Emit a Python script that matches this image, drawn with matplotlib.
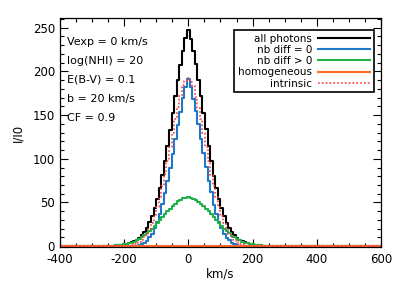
import numpy as np
import matplotlib
matplotlib.use('Agg')
import matplotlib.pyplot as plt
from matplotlib.ticker import MultipleLocator

# histogram bins: 8 km/s wide, centres from -248 to 248 km/s
v_centres = np.arange(-248, 249, 8)

# all photons
all_photons = [0.5, 0.6, 0.8, 1.0, 1.3, 1.7, 2.0, 2.6, 3.3, 4.3, 5.6, 7.2, 9.6, 12.5, 16.3, 21.1,
               27.2, 34.5, 43.5, 54.3, 66.6, 81, 97.5, 114.8, 133, 152, 171.8, 190.2, 207.2, 223.7, 237.6,
               247,
               237.0, 223.0, 207.8, 190.6, 171.2, 152.4, 133.5, 114.2, 97.9, 80.6, 66.9, 54.0, 43.8, 34.2, 27.0,
               21.3, 16.1, 12.6, 9.5, 7.3, 5.5, 4.3, 3.4, 2.6, 2.0, 1.7, 1.3, 1.0, 0.8, 0.6, 0.5]
# photons with no diffusion
nb_diff_0 = [0, 0, 0, 0, 0, 0, 0, 0, 0, 0.1, 0.3, 0.6, 1.2, 2.3, 4.0, 6.5,
             10, 14.5, 20.5, 28, 37, 48, 61, 75, 90, 106, 123, 139, 154, 169, 182,
             191,
             181.5, 168.5, 154.5, 139.5, 122.5, 106.5, 90.5, 74.5, 61.5, 47.5, 37.3, 27.8, 20.7, 14.3, 9.9,
             6.6, 3.9, 2.4, 1.1, 0.6, 0.3, 0.1, 0, 0, 0, 0, 0, 0, 0, 0, 0]
# photons diffused at least once
nb_diff_gt0 = [0.4, 0.5, 0.7, 0.9, 1.2, 1.6, 2.0, 2.6, 3.3, 4.2, 5.3, 6.6, 8.4, 10.2, 12.3, 14.6,
               17.2, 20.0, 23.0, 26.3, 29.6, 33.0, 36.5, 39.8, 43.0, 46.0, 48.8, 51.2, 53.2, 54.7, 55.6,
               56,
               55.5, 54.5, 53.3, 51.1, 48.7, 45.9, 43.0, 39.7, 36.4, 33.1, 29.6, 26.2, 23.1, 19.9, 17.1,
               14.7, 12.2, 10.2, 8.4, 6.7, 5.2, 4.2, 3.4, 2.6, 2.0, 1.7, 1.3, 1.0, 0.8, 0.6, 0.5]
# homogeneous medium
homogeneous = [0] * 63
# intrinsic profile
intrinsic = [0, 0, 0, 0, 0, 0.2, 0.3, 0.5, 0.8, 1.2, 2.0, 3.0, 4.5, 7.0, 10, 14.5,
             20, 27, 35, 45, 56, 69, 83, 98, 114, 130, 145, 159, 172, 184, 189,
             192,
             188, 183, 171, 158, 145, 129, 113, 98, 82, 69, 56, 45, 35, 27, 20,
             14.5, 10, 7, 4.5, 3.0, 2.0, 1.2, 0.8, 0.5, 0.3, 0.2, 0, 0, 0, 0, 0]

params = ['Vexp = 0 km/s', 'log(NHI) = 20', 'E(B-V) = 0.1', 'b = 20 km/s', 'CF = 0.9']

# pad with the flat zero level over the whole plotted range
v_full = np.concatenate([[-400], v_centres, [600]])
def pad(y):
    return np.concatenate([[0], y, [0]])

plt.rcParams['font.family'] = 'DejaVu Sans'
plt.rcParams['axes.unicode_minus'] = False
fig = plt.figure(figsize=(3.99, 2.85), dpi=100)
ax = fig.add_axes([0.150, 0.133, 0.805, 0.804])

lw = 1.5
ax.step(v_full, pad(all_photons), where='mid', color='black', lw=lw, label='all photons')
ax.step(v_full, pad(nb_diff_0), where='mid', color='#1f78c8', lw=lw, label='nb diff = 0')
ax.step(v_full, pad(nb_diff_gt0), where='mid', color='#1fb04a', lw=lw, label='nb diff > 0')
ax.step(v_full, pad(homogeneous), where='mid', color='#ff6a2a', lw=lw, label='homogeneous')
ax.step(v_full, pad(intrinsic), where='mid', color='#ff4040', lw=1.2, ls=(0, (1, 1.3)), label='intrinsic')

ax.set_xlim(-400, 600)
ax.set_ylim(-1, 261)
ax.xaxis.set_major_locator(MultipleLocator(200))
ax.xaxis.set_minor_locator(MultipleLocator(50))
ax.yaxis.set_major_locator(MultipleLocator(50))
ax.yaxis.set_minor_locator(MultipleLocator(10))
ax.tick_params(which='both', direction='in', top=True, right=True, labelsize=8.5, width=0.8)
ax.tick_params(which='major', length=6)
ax.tick_params(which='minor', length=3)
ax.tick_params(axis='x', pad=4)
for s in ax.spines.values():
    s.set_linewidth(0.9)

ax.set_xlabel('km/s', fontsize=8.5, labelpad=1)
ax.set_ylabel('I/I0', fontsize=8.5, labelpad=6)

for i, t in enumerate(params):
    ax.text(0.022, 0.895 - i * 0.0825, t, transform=ax.transAxes, fontsize=8, va='center', ha='left')

leg = ax.legend(loc='upper right', bbox_to_anchor=(0.978, 0.948), borderaxespad=0, fontsize=7.5,
                markerfirst=False, handlelength=5.0, labelspacing=0.12, borderpad=0.35, handletextpad=0.6,
                fancybox=False, framealpha=1, edgecolor='black')
leg.get_frame().set_linewidth(1.2)

fig.savefig('out.png', dpi=100)
